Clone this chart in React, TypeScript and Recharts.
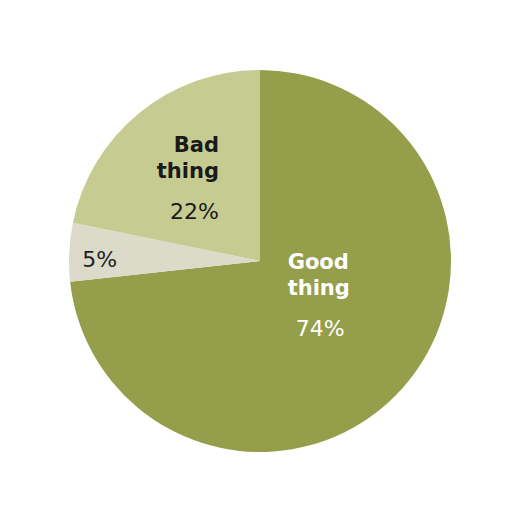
import { PieChart, Pie, Cell } from "recharts";

const categories = ["Good thing", "DK", "Bad thing"];
const shares = [74, 5, 22];
const sliceColors = ["#959e4b", "#dcdbc9", "#c6cc91"];

const data = categories.map((name, i) => ({ name, value: shares[i] }));

// label placement relative to the pie centre, in units of the radius
const labelLayout: Record<string, { x: number; y: number; anchor: "start" | "end"; color: string; title: string[] }> = {
  "Good thing": { x: 0.145, y: 0.04, anchor: "start", color: "#ffffff", title: ["Good", "thing"] },
  "Bad thing": { x: -0.215, y: -0.57, anchor: "end", color: "#1a1a1a", title: ["Bad", "thing"] },
  DK: { x: -0.93, y: 0.03, anchor: "start", color: "#222222", title: [] },
};

function renderLabel(props: any) {
  const { cx, cy, outerRadius, name, value } = props;
  const l = labelLayout[name];
  if (!l) return null;
  const x = cx + l.x * outerRadius;
  const y = cy + l.y * outerRadius;
  const lines = l.title;
  return (
    <text x={x} y={y} textAnchor={l.anchor} fill={l.color} fontFamily="DejaVu Sans, sans-serif">
      {lines.map((t, i) => (
        <tspan key={t} x={x} dy={i === 0 ? 0 : 26} fontSize={21} fontWeight="bold">
          {t}
        </tspan>
      ))}
      <tspan
        x={l.anchor === "start" && lines.length ? x + 8 : x}
        dy={lines.length ? 41 : 0}
        fontSize={22}
        fontWeight="normal"
      >
        {`${value}%`}
      </tspan>
    </text>
  );
}

export default function App() {
  return (
    <div style={{ position: "absolute", left: 0, top: 0, width: 512, height: 512, background: "#ffffff" }}>
      <PieChart width={512} height={512} margin={{ top: 0, right: 0, bottom: 0, left: 0 }}>
        <Pie
          data={data}
          dataKey="value"
          nameKey="name"
          cx={260}
          cy={261}
          outerRadius={191}
          startAngle={90}
          endAngle={-270}
          stroke="none"
          labelLine={false}
          label={renderLabel}
          isAnimationActive={false}
        >
          {data.map((d, i) => (
            <Cell key={d.name} fill={sliceColors[i]} />
          ))}
        </Pie>
      </PieChart>
    </div>
  );
}
